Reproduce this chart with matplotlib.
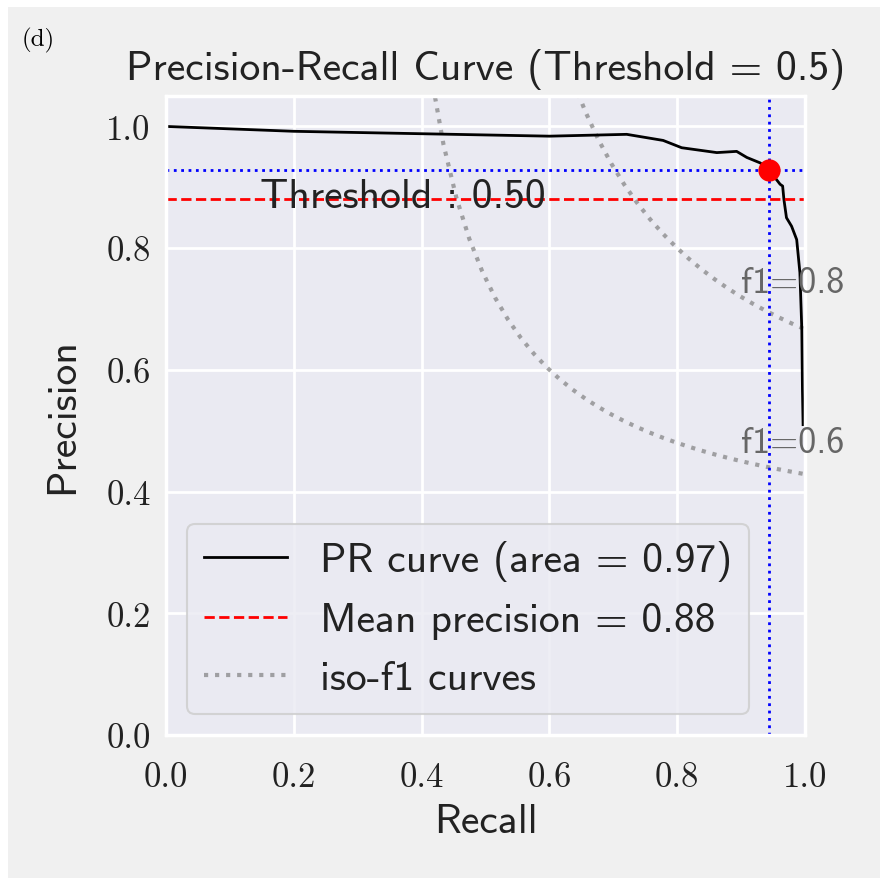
import matplotlib
matplotlib.use("Agg")
import matplotlib.pyplot as plt
import numpy as np
from matplotlib.patches import Rectangle
from matplotlib.lines import Line2D

# Precision-recall curve points
recall = [0.0, 0.2, 0.4, 0.6, 0.721, 0.778, 0.807, 0.862, 0.893, 0.909, 0.930,
          0.944, 0.961, 0.965, 0.967, 0.971, 0.979, 0.987, 0.992, 0.995, 0.996, 0.997]
precision = [1.0, 0.992, 0.988, 0.984, 0.987, 0.977, 0.965, 0.957, 0.959, 0.949, 0.940,
             0.928, 0.905, 0.902, 0.880, 0.850, 0.836, 0.814, 0.760, 0.667, 0.568, 0.51]

pr_area = 0.97
mean_precision = 0.88
threshold = 0.5
threshold_recall = 0.944
threshold_precision = 0.928
iso_f1_scores = [0.6, 0.8]
ticks = [0.0, 0.2, 0.4, 0.6, 0.8, 1.0]

SANS = "cmss10"
SERIF = "cmr10"
W, H = 884, 879
TXT = "#222222"

fig = plt.figure(figsize=(W / 100, H / 100), dpi=100, facecolor="white")
fig.patches.append(Rectangle((8 / W, 0), 872 / W, 871 / H, transform=fig.transFigure,
                             facecolor="#f0f0f0", edgecolor="none", zorder=-10))

ax = fig.add_axes([166 / W, 1 - 736 / H, 639 / W, 639 / H])
ax.set_facecolor("#eaeaf2")
for s in ax.spines.values():
    s.set_color("white")
    s.set_linewidth(2.5)
ax.grid(True, color="white", lw=2)
ax.set_axisbelow(True)

# iso-f1 reference curves
for f in iso_f1_scores:
    x = np.linspace(0.01, 1, 50)
    y = f * x / (2 * x - f)
    keep = y >= 0
    ax.plot(x[keep], y[keep], color="gray", alpha=0.7, ls=":", lw=3)
    ax.annotate(f"f1={f:0.1f}", xy=(0.9, y[45] + 0.02), fontsize=26,
                family=SANS, color="#666666")

ax.plot(recall, precision, color="black", lw=2)
ax.axhline(mean_precision, color="red", ls="--", lw=2)
ax.axhline(threshold_precision, color="blue", ls=":", lw=2)
ax.axvline(threshold_recall, color="blue", ls=":", lw=2)
ax.plot([threshold_recall], [threshold_precision], "o", color="red", ms=15, zorder=5)
ax.text(0.147, 0.867, f"Threshold : {threshold:0.2f}", fontsize=30, family=SANS,
        color=TXT, va="baseline")

ax.set_xlim(0, 1)
ax.set_ylim(0, 1.05)
ax.set_xticks(ticks)
ax.set_yticks(ticks)
ax.set_xticklabels([f"{t:.1f}" for t in ticks], family=SERIF, fontsize=25, color=TXT)
ax.set_yticklabels([f"{t:.1f}" for t in ticks], family=SERIF, fontsize=25, color=TXT)
ax.tick_params(axis="x", length=0, pad=19)
ax.tick_params(axis="y", length=0, pad=11)

ax.set_xlabel("Recall", family=SANS, fontsize=30, color=TXT, labelpad=7)
ax.set_ylabel("Precision", family=SANS, fontsize=30, color=TXT, labelpad=18)
ax.set_title(f"Precision-Recall Curve (Threshold = {threshold})", family=SANS,
             fontsize=30, color=TXT, pad=12)

handles = [
    Line2D([], [], color="black", lw=2),
    Line2D([], [], color="red", ls="--", lw=2),
    Line2D([], [], color="gray", alpha=0.7, ls=":", lw=3),
]
labels = [f"PR curve (area = {pr_area:0.2f})",
          f"Mean precision = {mean_precision:0.2f}",
          "iso-f1 curves"]
leg = ax.legend(handles, labels, loc="lower left", prop={"family": SANS, "size": 30},
                facecolor="#eaeaf2", edgecolor="#cccccc", framealpha=0.8)
leg.get_frame().set_linewidth(1.5)
for t in leg.get_texts():
    t.set_color(TXT)

fig.text(22 / W, 1 - 46 / H, "(d)", family=SERIF, fontsize=18, va="baseline")

fig.savefig("out.png", dpi=100, facecolor=fig.get_facecolor())
